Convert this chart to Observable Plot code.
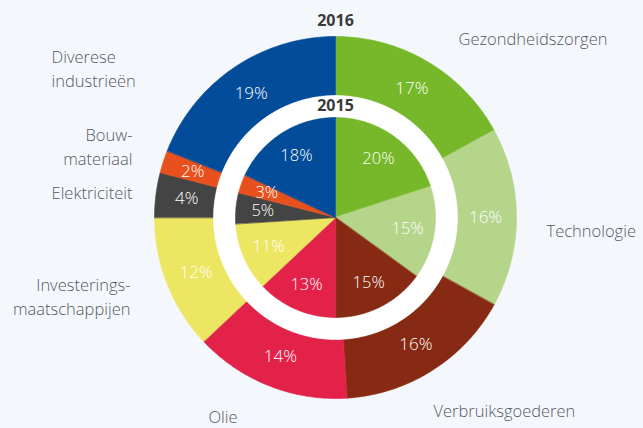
<!DOCTYPE html>
<html>
<head>
<meta charset="utf-8">
<script src="https://cdn.jsdelivr.net/npm/d3@7"></script>
<script src="https://cdn.jsdelivr.net/npm/@observablehq/plot@0.6"></script>
<style>
  html, body { margin: 0; padding: 0; background: #f4f8fd; }
  #chart svg { display: block; }
</style>
</head>
<body>
<div id="chart"></div>
<script>
// ---- data ----
const categories = ["Gezondheidszorgen", "Technologie", "Verbruiksgoederen", "Olie",
  "Investeringsmaatschappijen", "Elektriciteit", "Bouwmateriaal", "Diverese industrieën"];
const share2016 = [17, 16, 16, 14, 12, 4, 2, 19];
const share2015 = [20, 15, 15, 13, 11, 5, 3, 18];
const colors = ["#76b82a", "#b5d58b", "#862a13", "#e3224a", "#ede662", "#444444", "#e8511d", "#024c99"];
const categoryLabels = ["Gezondheidszorgen", "Technologie", "Verbruiksgoederen", "Olie",
  "Investerings-\nmaatschappijen", "Elektriciteit", "Bouw-\nmateriaal", "Diverese\nindustrieën"];
const ringTitles = ["2016", "2015"];

// ---- layout (chart units, centre of the rings at 0,0) ----
const R_OUT = 181, R_MID = 122, R_IN = 100;
const LBL_OUT = 150, LBL_IN = 73;
const labelLayout = [
  {x: 123, y: 180, anchor: "start"},
  {x: 211, y: -12, anchor: "start"},
  {x: 98, y: -192, anchor: "start"},
  {x: -127, y: -198, anchor: "start"},
  {x: -205, y: -77.5, anchor: "end"},
  {x: -203, y: 26, anchor: "end"},
  {x: -203, y: 72.5, anchor: "end"},
  {x: -284, y: 150, anchor: "start"}
];

function ring(values, r0, r1, ringId, rLabel) {
  const total = d3.sum(values);
  const pts = [], labels = [];
  let cum = 0;
  values.forEach((v, i) => {
    const a0 = cum / total * 2 * Math.PI;
    const a1 = (cum + v) / total * 2 * Math.PI;
    const n = Math.max(2, Math.ceil((a1 - a0) / (Math.PI / 180)));
    const key = ringId + "-" + i;
    for (let k = 0; k <= n; k++) {
      const a = a0 + (a1 - a0) * k / n;
      pts.push({key, cat: categories[i], x: r1 * Math.sin(a), y: r1 * Math.cos(a)});
    }
    if (r0 > 0) {
      for (let k = n; k >= 0; k--) {
        const a = a0 + (a1 - a0) * k / n;
        pts.push({key, cat: categories[i], x: r0 * Math.sin(a), y: r0 * Math.cos(a)});
      }
    } else {
      pts.push({key, cat: categories[i], x: 0, y: 0});
    }
    const am = (a0 + a1) / 2;
    labels.push({x: rLabel * Math.sin(am), y: rLabel * Math.cos(am), text: v + "%"});
    cum += v;
  });
  return {pts, labels};
}

const outer = ring(share2016, R_MID, R_OUT, "o", LBL_OUT);
const inner = ring(share2015, 0, R_IN, "i", LBL_IN);
const disc = d3.range(0, 361, 1).map(d => ({
  x: R_MID * Math.sin(d * Math.PI / 180), y: R_MID * Math.cos(d * Math.PI / 180)
}));

const catLabels = categoryLabels.map((t, i) => ({text: t, ...labelLayout[i]}));
const titles = [
  {text: ringTitles[0], x: 0, y: 196.5},
  {text: ringTitles[1], x: 0, y: 111.5}
];

const chart = Plot.plot({
  width: 643,
  height: 428,
  margin: 0,
  x: {domain: [-335, 308], axis: null},
  y: {domain: [-211, 217], axis: null},
  color: {domain: categories, range: colors},
  style: {background: "#f4f8fd", fontFamily: "'Open Sans', sans-serif"},
  marks: [
    Plot.line(outer.pts, {x: "x", y: "y", z: "key", fill: "cat", stroke: "cat", strokeWidth: 0.6, curve: "linear-closed"}),
    Plot.line(disc, {x: "x", y: "y", fill: "white", stroke: "white", strokeWidth: 0.5, curve: "linear-closed"}),
    Plot.line(inner.pts, {x: "x", y: "y", z: "key", fill: "cat", stroke: "cat", strokeWidth: 0.6, curve: "linear-closed"}),
    Plot.text(outer.labels, {x: "x", y: "y", text: "text", fill: "white", fontSize: 17, fontWeight: 300}),
    Plot.text(inner.labels, {x: "x", y: "y", text: "text", fill: "white", fontSize: 16.5, fontWeight: 300}),
    Plot.text(titles, {x: "x", y: "y", text: "text", fill: "#3a3a3a", fontSize: 16, fontWeight: "bold"}),
    Plot.text(catLabels.filter(d => d.anchor === "start"), {x: "x", y: "y", text: "text", textAnchor: "start", lineAnchor: "middle", lineHeight: 1.45, fill: "#55595e", fontSize: 16.5, fontWeight: 300}),
    Plot.text(catLabels.filter(d => d.anchor === "end"), {x: "x", y: "y", text: "text", textAnchor: "end", lineAnchor: "middle", lineHeight: 1.45, fill: "#55595e", fontSize: 16.5, fontWeight: 300})
  ]
});
document.getElementById("chart").appendChild(chart);
</script>
</body>
</html>
